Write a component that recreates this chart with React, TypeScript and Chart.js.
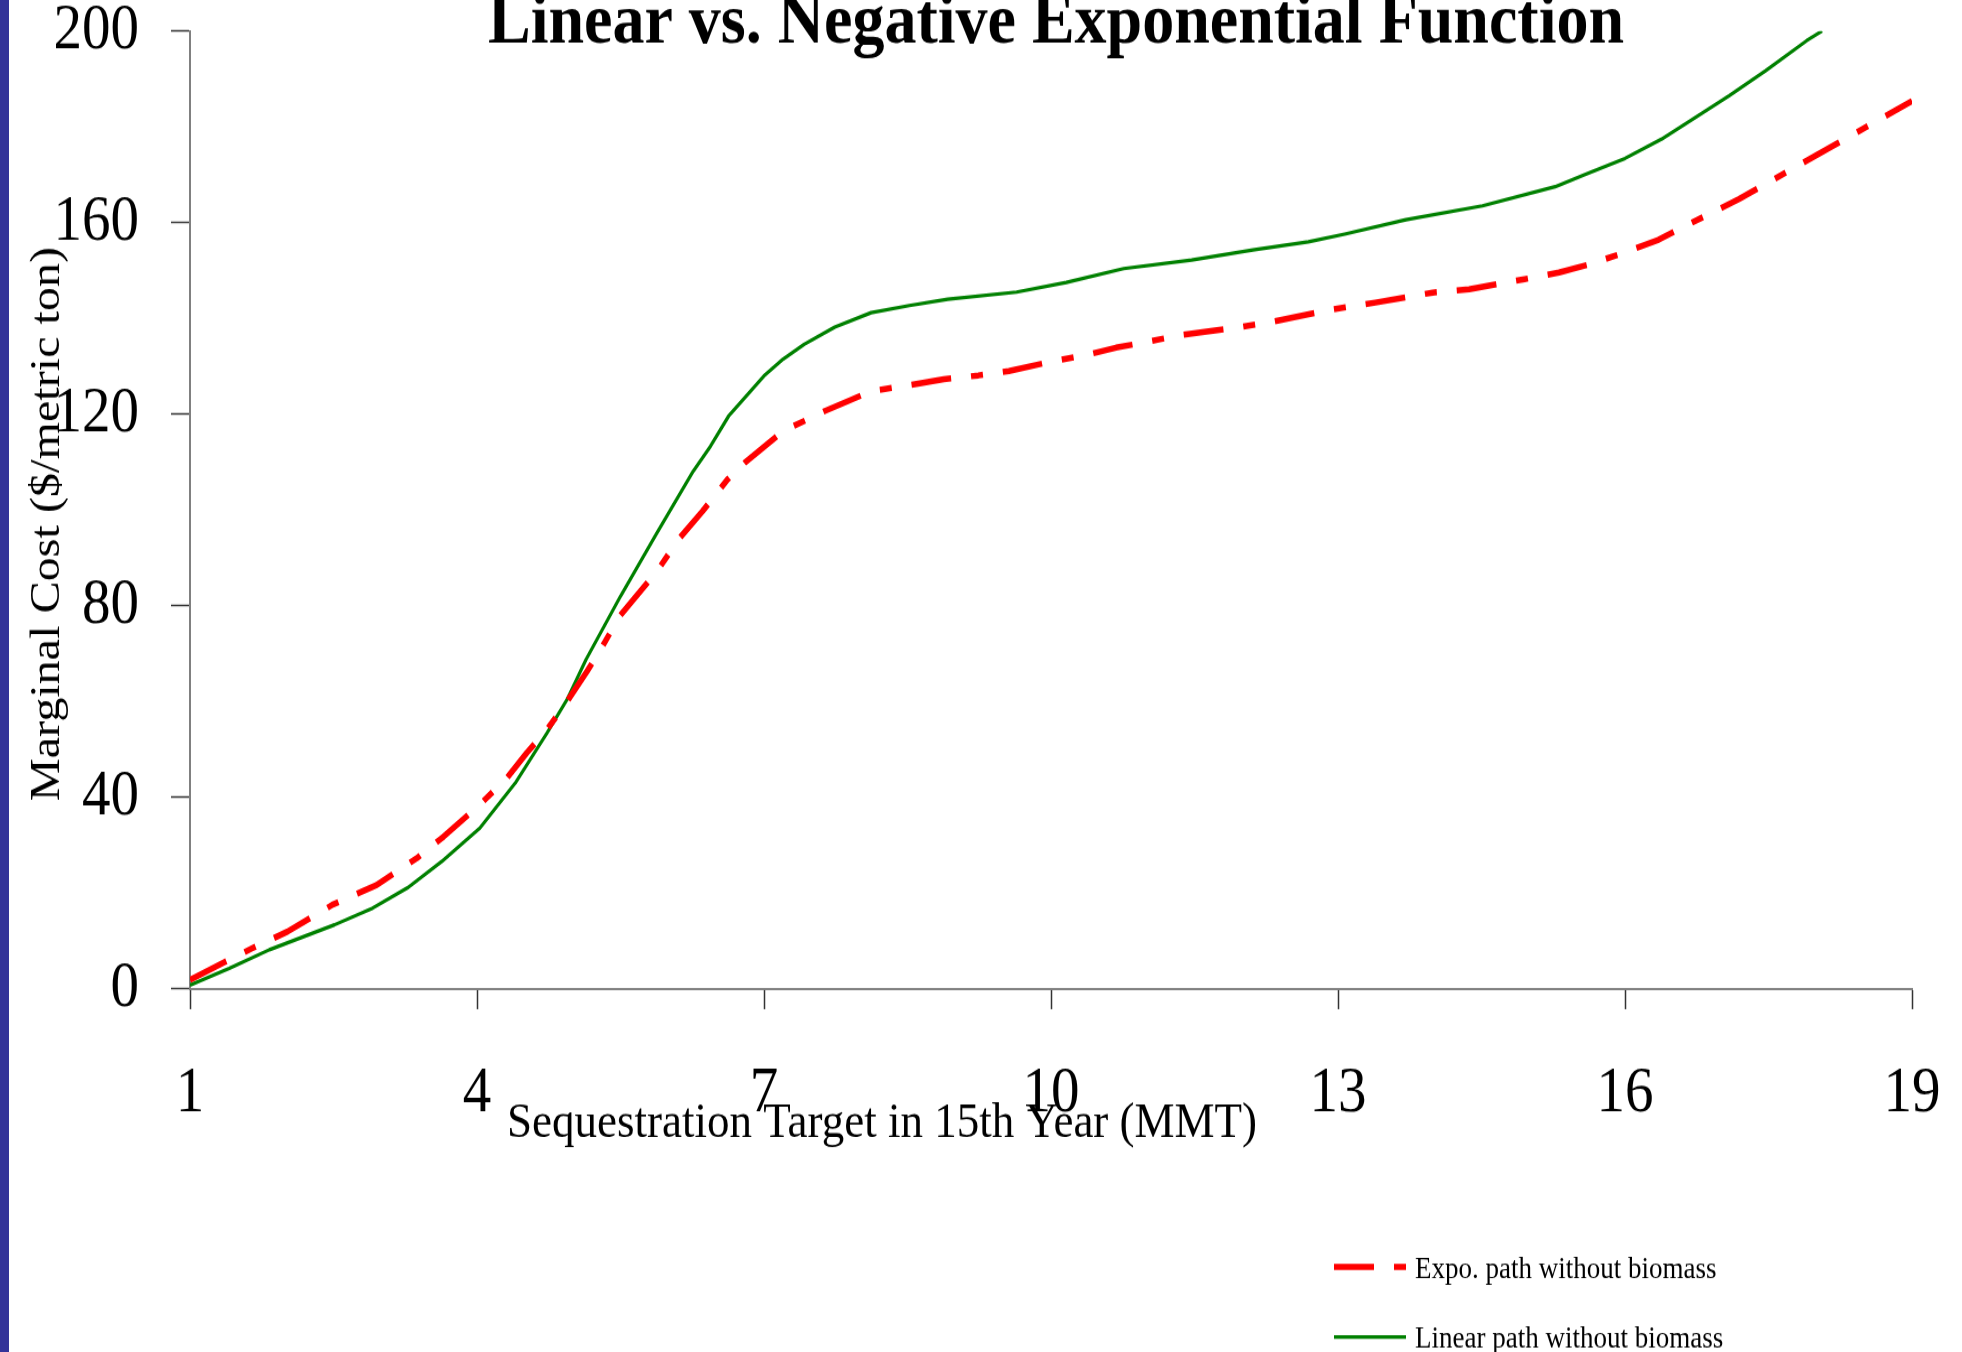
import React, { useEffect, useRef } from 'react';
import { Chart, registerables } from 'chart.js';

Chart.register(...registerables);

// The reference is vertically stretched; we draw on a shorter canvas and stretch it.
const CANVAS_W = 1962;
const CANVAS_H = 1207;
const K = 1352 / CANVAS_H;

const FONT = "'Liberation Serif', 'Times New Roman', serif";

const TITLE = 'Linear vs. Negative Exponential Function';
const X_TITLE = 'Sequestration Target in 15th Year (MMT)';
const Y_TITLE = 'Marginal Cost ($/metric ton)';
const SERIES_NAMES = ['Expo. path without biomass', 'Linear path without biomass'];

const xTickValues = [1, 4, 7, 10, 13, 16, 19];
const yTickValues = [0, 40, 80, 120, 160, 200];

const expoX = [
  1.0, 1.37, 1.65, 2.02, 2.49, 2.95, 3.37, 3.65, 4.03, 4.31, 4.52, 4.73, 4.94, 5.15, 5.31, 5.49,
  5.88, 6.12, 6.36, 6.62, 6.8, 7.2, 7.64, 8.12, 8.56, 8.88, 9.24, 9.56, 9.96, 10.4, 10.68, 11.03,
  11.35, 11.95, 12.31, 12.95, 13.39, 13.99, 14.37, 14.95, 15.31, 15.63, 15.94, 16.35, 16.67, 17.19,
  18.11, 19.0,
];
const expoY = [
  1.9, 5.7, 8.5, 12.0, 17.6, 21.7, 27.3, 31.8, 38.5, 44.0, 49.3, 54.1, 60.0, 66.3, 71.5, 77.8,
  87.2, 94.2, 99.8, 106.4, 109.9, 116.5, 120.7, 124.8, 126.2, 127.3, 128.1, 129.0, 130.8, 132.5, 133.9, 135.2,
  136.5, 138.1, 139.3, 141.9, 143.3, 145.4, 146.1, 148.2, 149.6, 151.3, 153.4, 156.4, 159.7, 164.9,
  175.3, 185.4,
];

const linearX = [
  1.0, 1.41, 1.83, 2.51, 2.91, 3.28, 3.63, 4.03, 4.4, 4.73, 4.94, 5.14, 5.5, 5.88, 6.26, 6.44,
  6.63, 7.0, 7.2, 7.42, 7.74, 8.12, 8.52, 8.92, 9.64, 10.16, 10.76, 11.47, 12.11, 12.69, 13.07, 13.71,
  14.51, 15.27, 15.59, 16.0, 16.38, 16.74, 17.09, 17.47, 17.9, 18.06,
];
const linearY = [
  0.8, 4.3, 8.2, 13.4, 16.9, 21.2, 26.6, 33.6, 43.0, 53.4, 60.4, 68.8, 82.0, 95.2, 108.1, 113.3,
  119.6, 128.0, 131.5, 134.6, 138.2, 141.2, 142.7, 144.0, 145.5, 147.5, 150.4, 152.2, 154.3, 156.0, 157.6, 160.6,
  163.5, 167.5, 170.1, 173.4, 177.4, 182.0, 186.5, 191.7, 198.0, 200.0,
];

const zeroPadding = (s: any) => {
  s.paddingTop = 0;
  s.paddingBottom = 0;
  s.paddingLeft = 0;
  s.paddingRight = 0;
};

const decorPlugin = {
  id: 'decor',
  beforeDraw(chart: any) {
    const { ctx, width, height } = chart;
    ctx.save();
    ctx.fillStyle = '#ffffff';
    ctx.fillRect(0, 0, width, height);
    ctx.fillStyle = '#333399';
    ctx.fillRect(0, 0, 9, height);
    ctx.restore();
  },
  afterDraw(chart: any) {
    const { ctx } = chart;
    ctx.save();
    ctx.fillStyle = '#000000';
    ctx.textBaseline = 'alphabetic';

    // Chart title (cut at the top)
    ctx.font = `bold 64px ${FONT}`;
    ctx.textAlign = 'center';
    ctx.fillText(TITLE, 1056, 43 / K);

    // X axis title
    ctx.font = `45px ${FONT}`;
    ctx.textAlign = 'left';
    ctx.fillText(X_TITLE, 507, 1137 / K);

    // Y axis title (rotated)
    ctx.save();
    ctx.translate(59, 524 / K);
    ctx.rotate(-Math.PI / 2);
    ctx.font = `43px ${FONT}`;
    ctx.textAlign = 'center';
    ctx.fillText(Y_TITLE, 0, 0);
    ctx.restore();

    // Legend
    const lineY = [1267 / K, 1337 / K];
    const textY = [1278 / K, 1348 / K];
    chart.data.datasets.forEach((ds: any, i: number) => {
      ctx.save();
      ctx.strokeStyle = ds.borderColor;
      ctx.lineWidth = ds.borderWidth;
      ctx.lineCap = 'butt';
      ctx.setLineDash(ds.borderDash || []);
      ctx.beginPath();
      ctx.moveTo(1334, lineY[i]);
      ctx.lineTo(1406, lineY[i]);
      ctx.stroke();
      ctx.restore();
      ctx.font = `27px ${FONT}`;
      ctx.textAlign = 'left';
      ctx.fillStyle = '#000000';
      ctx.fillText(ds.label, 1415, textY[i]);
    });
    ctx.restore();
  },
};

export default function App() {
  const ref = useRef<HTMLCanvasElement>(null);

  useEffect(() => {
    const canvas = ref.current;
    if (!canvas) return;
    const chart = new Chart(canvas, {
      type: 'line',
      data: {
        datasets: [
          {
            label: SERIES_NAMES[0],
            data: expoX.map((x, i) => ({ x, y: expoY[i] })),
            borderColor: '#ff0000',
            backgroundColor: '#ff0000',
            borderWidth: 5.5,
            borderDash: [40, 20, 12, 20],
            borderCapStyle: 'butt',
            borderJoinStyle: 'round',
            pointRadius: 0,
            tension: 0,
            fill: false,
          },
          {
            label: SERIES_NAMES[1],
            data: linearX.map((x, i) => ({ x, y: linearY[i] })),
            borderColor: '#008000',
            backgroundColor: '#008000',
            borderWidth: 3.2,
            borderJoinStyle: 'round',
            pointRadius: 0,
            tension: 0,
            fill: false,
          },
        ],
      },
      options: {
        responsive: false,
        animation: false,
        devicePixelRatio: 1,
        events: [],
        layout: { padding: { top: 31 / K, right: 50, left: 0, bottom: 0 } },
        plugins: {
          legend: { display: false },
          title: { display: false },
          tooltip: { enabled: false },
        },
        scales: {
          x: {
            type: 'linear',
            min: 1,
            max: 19,
            afterBuildTicks: (s: any) => {
              s.ticks = xTickValues.map((v) => ({ value: v }));
            },
            afterFit: (s: any) => {
              s.height = CANVAS_H - 989 / K;
              zeroPadding(s);
            },
            ticks: {
              color: '#000000',
              font: { family: FONT, size: 57, lineHeight: 1 },
              padding: 47.5,
              maxRotation: 0,
              autoSkip: false,
            },
            grid: {
              drawOnChartArea: false,
              drawTicks: true,
              tickLength: 18,
              tickColor: '#333333',
              tickWidth: 1.5,
            },
            border: { display: true, color: '#808080', width: 2 },
          },
          y: {
            type: 'linear',
            min: 0,
            max: 200,
            afterBuildTicks: (s: any) => {
              s.ticks = yTickValues.map((v) => ({ value: v }));
            },
            afterFit: (s: any) => {
              s.width = 190;
              zeroPadding(s);
            },
            ticks: {
              color: '#000000',
              font: { family: FONT, size: 57, lineHeight: 0.9 },
              padding: 32,
            },
            grid: {
              drawOnChartArea: false,
              drawTicks: true,
              tickLength: 19,
              tickColor: '#333333',
              tickWidth: 1.5,
            },
            border: { display: true, color: '#808080', width: 2 },
          },
        },
      },
      plugins: [decorPlugin],
    } as any);
    return () => chart.destroy();
  }, []);

  return (
    <div
      style={{
        position: 'fixed',
        left: 0,
        top: 0,
        width: 1962,
        height: 1352,
        overflow: 'hidden',
        background: '#ffffff',
      }}
    >
      <canvas
        ref={ref}
        width={CANVAS_W}
        height={CANVAS_H}
        style={{
          display: 'block',
          width: `${CANVAS_W}px`,
          height: `${CANVAS_H}px`,
          transform: `scaleY(${K})`,
          transformOrigin: '0 0',
        }}
      />
    </div>
  );
}
